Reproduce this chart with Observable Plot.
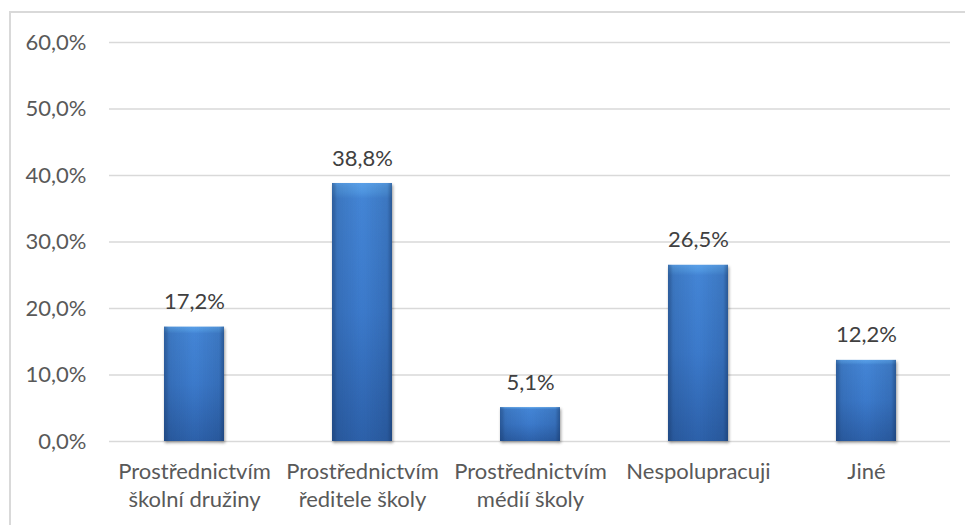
<!DOCTYPE html>
<html><head><meta charset="utf-8">
<script src="https://cdn.jsdelivr.net/npm/d3@7"></script>
<script src="https://cdn.jsdelivr.net/npm/@observablehq/plot@0.6"></script>
<style>
body{margin:0;background:#fff;}
#frame{position:absolute;left:9px;top:11px;width:960px;height:520px;border-left:2px solid #d9d9d9;border-top:2px solid #d9d9d9;}
#chart{position:absolute;left:0;top:0;}
g[aria-label="bar"]{filter:drop-shadow(1px 2px 1.5px rgba(0,0,0,0.3));}
</style></head><body>
<div id="frame"></div><div id="chart"></div>
<script>
const categories = [
  "Prostřednictvím\nškolní družiny",
  "Prostřednictvím\nředitele školy",
  "Prostřednictvím\nmédií školy",
  "Nespolupracuji",
  "Jiné"
];
const values = [17.2, 38.8, 5.1, 26.5, 12.2];
const yTicks = [0, 10, 20, 30, 40, 50, 60];

const data = categories.map((c, i) => ({category: c, value: values[i]}));
const fmt = v => v.toFixed(1).replace(".", ",") + "%";

const chart = Plot.plot({
  width: 965, height: 525,
  marginLeft: 109, marginRight: 15, marginTop: 42, marginBottom: 84,
  style: {fontFamily: "Lato, 'Open Sans', sans-serif", background: "transparent", overflow: "visible"},
  x: {domain: categories, paddingInner: 0.644, paddingOuter: 0.322, label: null},
  y: {domain: [0, 60], ticks: yTicks, label: null},
  marks: [
    Plot.gridY(yTicks, {stroke: "#d9d9d9", strokeOpacity: 1, strokeWidth: 1.5}),
    Plot.axisY({ticks: yTicks, tickFormat: fmt, tickSize: 0, tickPadding: 23, fontSize: 22, fill: "#595959", label: null}),
    Plot.axisX({tickSize: 0, tickFormat: d => d, fontSize: 22, lineHeight: 1.3, tickPadding: 17, fill: "#595959", label: null}),
    Plot.barY(data, {x: "category", y: "value", fill: "url(#gv)"}),
    Plot.barY(data, {x: "category", y: "value", fill: "url(#gh)"}),
    Plot.text(data, {x: "category", y: "value", text: d => fmt(d.value), dy: -25, fontSize: 22, fill: "#404040"})
  ]
});

d3.select(chart).insert("defs", ":first-child").html(`
  <linearGradient id="gv" x1="0" y1="0" x2="0" y2="1">
    <stop offset="0" stop-color="#5aa0e8"/>
    <stop offset="0.035" stop-color="#4f95e0"/>
    <stop offset="0.06" stop-color="#4485d5"/>
    <stop offset="0.5" stop-color="#3c7acb"/>
    <stop offset="1" stop-color="#2d61aa"/>
  </linearGradient>
  <linearGradient id="gh" x1="0" y1="0" x2="1" y2="0">
    <stop offset="0" stop-color="#143260" stop-opacity="0.45"/>
    <stop offset="0.08" stop-color="#143260" stop-opacity="0.12"/>
    <stop offset="0.5" stop-color="#143260" stop-opacity="0"/>
    <stop offset="0.92" stop-color="#143260" stop-opacity="0.12"/>
    <stop offset="1" stop-color="#143260" stop-opacity="0.45"/>
  </linearGradient>`);

document.getElementById("chart").append(chart);
</script>
</body></html>
